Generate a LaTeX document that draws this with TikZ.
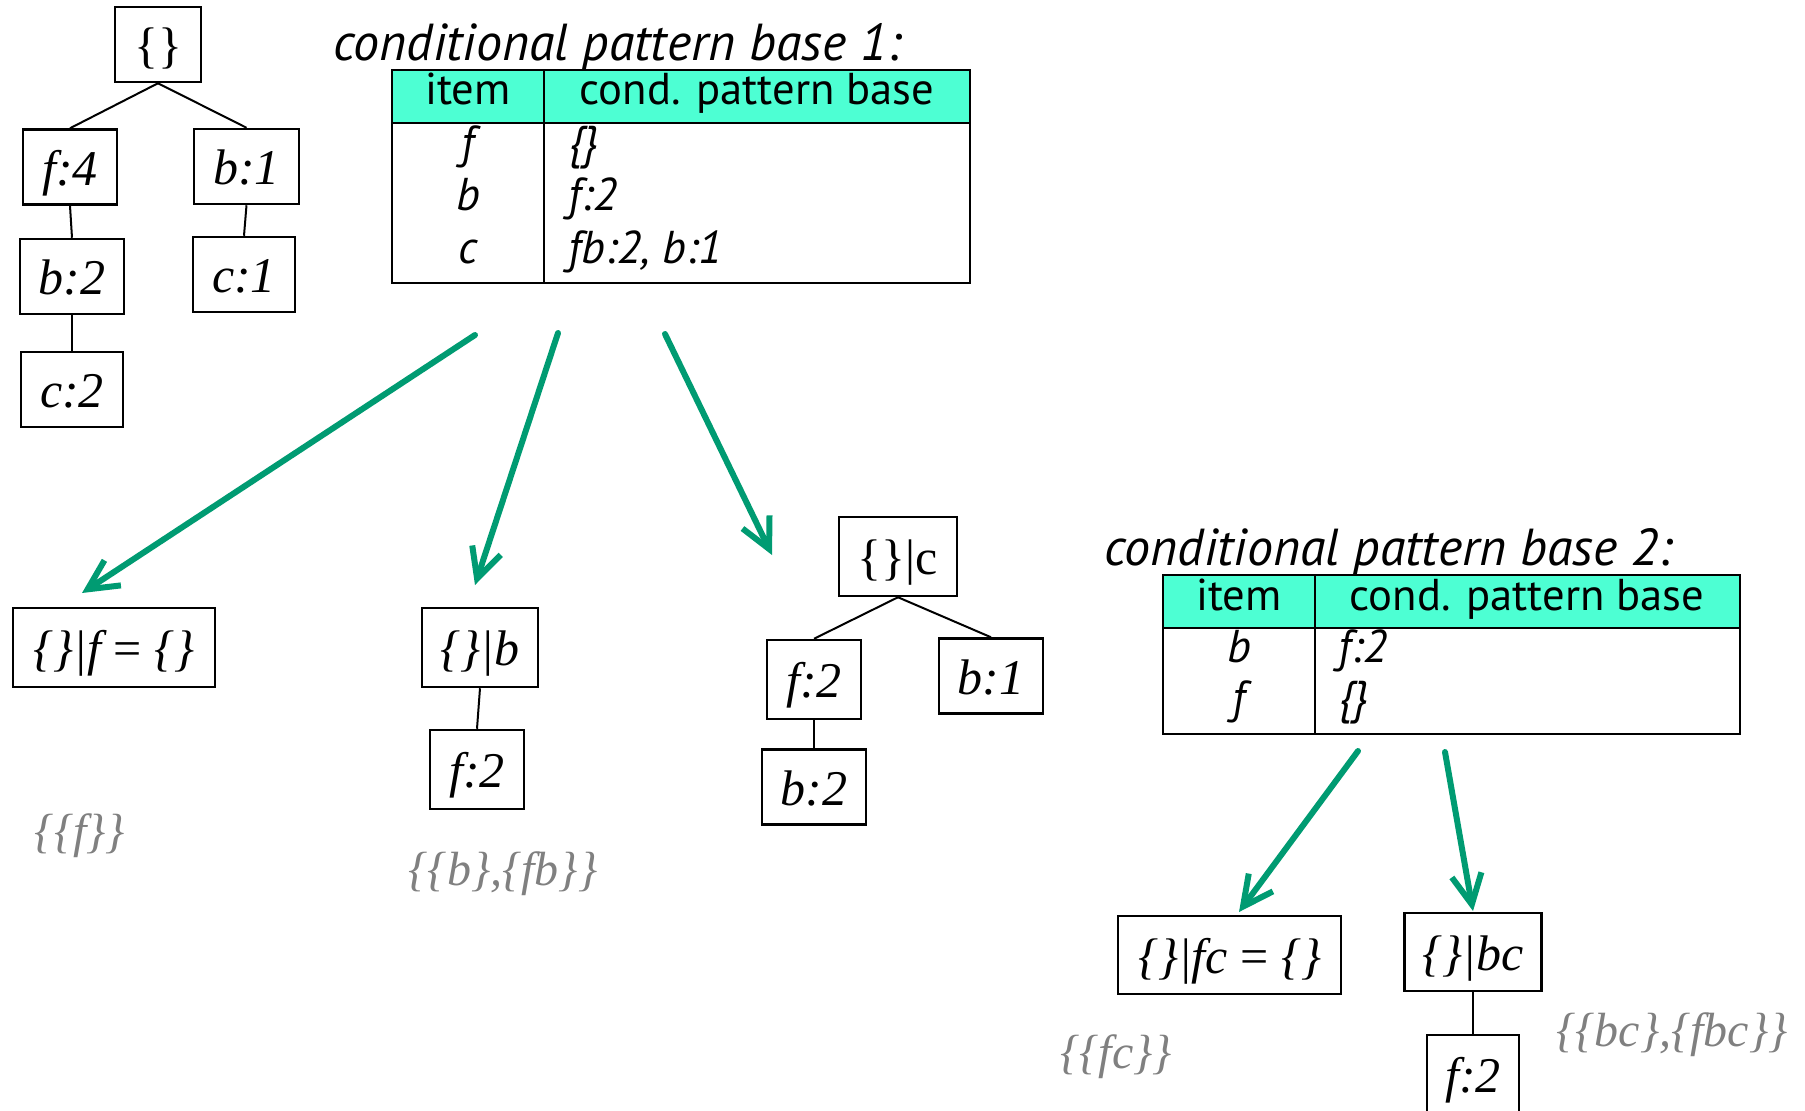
\documentclass[tikz,border=0pt]{standalone}
\usepackage{fontspec}
\setmainfont{Liberation Serif}
\newfontfamily\tabfont{PT Sans}
\usetikzlibrary{arrows.meta}
\definecolor{headfill}{RGB}{77,255,211}
\definecolor{arrowgreen}{RGB}{0,155,114}
\definecolor{resultgray}{RGB}{128,128,128}
\begin{document}
\begin{tikzpicture}[x=0.5pt,y=-0.5pt,
  treebox/.style={draw, line width=1.25pt, inner sep=0pt, minimum height=37.5pt,
    text height=21pt, text depth=3pt,
    font=\itshape\fontsize{25}{25}\selectfont},
  treeedge/.style={line width=1pt},
  tabline/.style={line width=1.25pt},
  tabtitle/.style={anchor=base west, inner sep=0pt, font=\tabfont\itshape\fontsize{26}{26}\selectfont},
  tabhead/.style={anchor=base, inner sep=0pt, font=\tabfont\fontsize{22.3}{22.3}\selectfont},
  tabitem/.style={anchor=base, inner sep=0pt, font=\tabfont\itshape\fontsize{23}{23}\selectfont},
  tabentry/.style={anchor=base west, inner sep=0pt, font=\tabfont\itshape\fontsize{23}{23}\selectfont},
  result/.style={inner sep=0pt, text=resultgray, font=\itshape\fontsize{24}{24}\selectfont},
  bigarrow/.style={draw=arrowgreen, line width=3pt, line cap=round,
    -{Straight Barb[length=15pt, width=15pt]}}
]
\useasboundingbox (0,0) rectangle (1805,1110);

% ---- FP-tree ----
\node[treebox, minimum width=43pt] (root) at (158,44.5) {\upshape\{\}};
\node[treebox, minimum width=47pt] (f4) at (70,167) {f:4};
\node[treebox, minimum width=52.5pt] (b1) at (246.5,166.5) {b:1};
\node[treebox, minimum width=52pt] (b2) at (72,276.5) {b:2};
\node[treebox, minimum width=51pt] (c1) at (244,274.5) {c:1};
\node[treebox, minimum width=51pt] (c2) at (72,389.5) {c:2};
\draw[treeedge] (root.south) -- (f4.north);
\draw[treeedge] (root.south) -- (b1.north);
\draw[treeedge] (f4.south) -- (b2.north);
\draw[treeedge] (b1.south) -- (c1.north);
\draw[treeedge] (b2.south) -- (c2.north);

% ---- conditional pattern base 1 ----
\node[tabtitle] (title1) at (333,60) {conditional pattern base 1:};
\fill[headfill] (392,70) rectangle (970,123);
\draw[tabline] (392,70) rectangle (970,283);
\draw[tabline] (392,123) -- (970,123);
\draw[tabline] (544,70) -- (544,283);
\node[tabhead] (h1a) at (468,104) {item};
\node[tabhead] (h1b) at (757,104) {cond. pattern base};
\node[tabitem] (i1f) at (468,158) {f};
\node[tabitem] (i1b) at (468,210) {b};
\node[tabitem] (i1c) at (468,263) {c};
\node[tabentry] (e1f) at (568,158) {\{\}};
\node[tabentry] (e1b) at (568,210) {f:2};
\node[tabentry] (e1c) at (568,263) {fb:2, b:1};

% ---- conditional trees of base 1 ----
\node[treebox, minimum width=101pt, minimum height=39.5pt] (cf) at (114,647.5) {\{\}|f \upshape= \itshape\{\}};
\node[treebox, minimum width=58pt, minimum height=39.5pt] (cb) at (480,647.5) {\{\}|b};
\node[treebox, minimum width=47pt, minimum height=39.5pt] (cbf) at (477,769.5) {f:2};
\draw[treeedge] (cb.south) -- (cbf.north);
\node[treebox, minimum width=59pt, minimum height=39.5pt] (cc) at (898,556.5) {\upshape\{\}|c};
\node[treebox, minimum width=47pt, minimum height=39.5pt] (ccf) at (814,679.5) {f:2};
\node[treebox, minimum width=52pt] (ccb1) at (991,676) {b:1};
\node[treebox, minimum width=52pt] (ccb2) at (814,787) {b:2};
\draw[treeedge] (cc.south) -- (ccf.north);
\draw[treeedge] (cc.south) -- (ccb1.north);
\draw[treeedge] (ccf.south) -- (ccb2.north);

\node[result] (rf) at (80,836) {\{\{f\}\}};
\node[result] (rb) at (503,874) {\{\{b\},\{fb\}\}};

% ---- arrows from table 1 ----
\coordinate (a1s) at (475,335);
\coordinate (a1e) at (82,593);
\coordinate (a2s) at (558,333);
\coordinate (a2e) at (475,585);
\coordinate (a3s) at (665,334);
\coordinate (a3e) at (772,555);
\draw[bigarrow] (a1s) -- (a1e);
\draw[bigarrow] (a2s) -- (a2e);
\draw[bigarrow] (a3s) -- (a3e);

% ---- conditional pattern base 2 ----
\node[tabtitle] (title2) at (1104,565) {conditional pattern base 2:};
\fill[headfill] (1163,575) rectangle (1740,628);
\draw[tabline] (1163,575) rectangle (1740,734);
\draw[tabline] (1163,628) -- (1740,628);
\draw[tabline] (1315,575) -- (1315,734);
\node[tabhead] (h2a) at (1239,610) {item};
\node[tabhead] (h2b) at (1527,610) {cond. pattern base};
\node[tabitem] (i2b) at (1239,662) {b};
\node[tabitem] (i2f) at (1239,713) {f};
\node[tabentry] (e2b) at (1338,662) {f:2};
\node[tabentry] (e2f) at (1338,713) {\{\}};

% ---- conditional trees of base 2 ----
\node[treebox, minimum width=111.5pt, minimum height=39pt] (cfc) at (1229.5,955) {\{\}|fc \upshape= \itshape\{\}};
\node[treebox, minimum width=68.5pt, minimum height=39pt] (cbc) at (1473,952) {\{\}|bc};
\node[treebox, minimum width=46pt, minimum height=39pt] (cbcf) at (1473,1074) {f:2};
\draw[treeedge] (cbc.south) -- (cbcf.north);

\node[result] (rfc) at (1116,1057) {\{\{fc\}\}};
\node[result] (rbc) at (1672,1035) {\{\{bc\},\{fbc\}\}};

% ---- arrows from table 2 ----
\coordinate (a4s) at (1358,751);
\coordinate (a4e) at (1239,912);
\coordinate (a5s) at (1445,752);
\coordinate (a5e) at (1473,911);
\draw[bigarrow] (a4s) -- (a4e);
\draw[bigarrow] (a5s) -- (a5e);
\end{tikzpicture}
\end{document}
